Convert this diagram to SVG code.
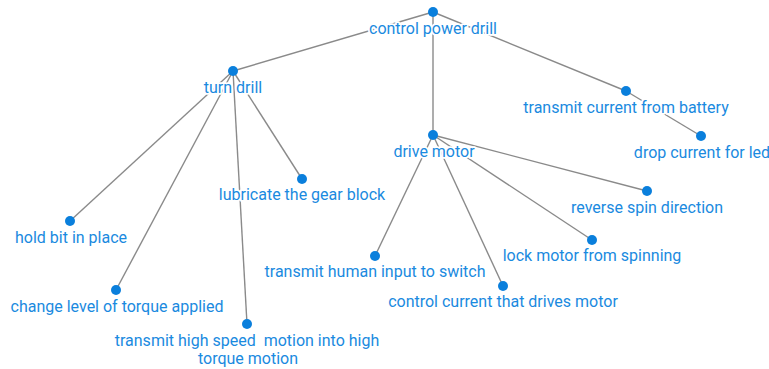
<svg xmlns="http://www.w3.org/2000/svg" width="769" height="369" viewBox="0 0 769 369">
<style>
.e{stroke:#8a8a8a;stroke-width:1.4;fill:none}
.d{fill:#0a7fdc}
.t{font-family:Roboto,"Liberation Sans",sans-serif;font-size:16px;fill:#1a8ae0;text-anchor:middle;stroke:#fff;stroke-width:3.5;stroke-linejoin:round;paint-order:stroke;white-space:pre}
</style>
<rect width="769" height="369" fill="#fff"/>
<g id="connectors">
<line class="e" x1="433" y1="12" x2="233" y2="71"/>
<line class="e" x1="433" y1="12" x2="433" y2="135"/>
<line class="e" x1="433" y1="12" x2="626" y2="91"/>
<line class="e" x1="626" y1="91" x2="701" y2="136"/>
<line class="e" x1="233" y1="71" x2="70" y2="221"/>
<line class="e" x1="233" y1="71" x2="116" y2="290"/>
<line class="e" x1="233" y1="71" x2="247" y2="324"/>
<line class="e" x1="233" y1="71" x2="302" y2="179"/>
<line class="e" x1="433" y1="135" x2="647" y2="191"/>
<line class="e" x1="433" y1="135" x2="592" y2="240"/>
<line class="e" x1="433" y1="135" x2="375" y2="256"/>
<line class="e" x1="433" y1="135" x2="503" y2="286"/>
</g>
<g id="n-control"><circle class="d" cx="433" cy="12" r="5"/><text class="t" x="433" y="34">control power drill</text></g>
<g id="n-turn"><circle class="d" cx="233" cy="71" r="5"/><text class="t" x="233" y="93">turn drill</text></g>
<g id="n-battery"><circle class="d" cx="626" cy="91" r="5"/><text class="t" x="626" y="113">transmit current from battery</text></g>
<g id="n-led"><circle class="d" cx="701" cy="136" r="5"/><text class="t" x="702" y="158">drop current for led</text></g>
<g id="n-drive"><circle class="d" cx="433" cy="135" r="5"/><text class="t" x="434" y="157">drive motor</text></g>
<g id="n-lubricate"><circle class="d" cx="302" cy="179" r="5"/><text class="t" x="302" y="200">lubricate the gear block</text></g>
<g id="n-reverse"><circle class="d" cx="647" cy="191" r="5"/><text class="t" x="647" y="213">reverse spin direction</text></g>
<g id="n-hold"><circle class="d" cx="70" cy="221" r="5"/><text class="t" x="71" y="243">hold bit in place</text></g>
<g id="n-lock"><circle class="d" cx="592" cy="240" r="5"/><text class="t" x="592" y="261">lock motor from spinning</text></g>
<g id="n-human"><circle class="d" cx="375" cy="256" r="5"/><text class="t" x="375" y="277">transmit human input to switch</text></g>
<g id="n-current"><circle class="d" cx="503" cy="286" r="5"/><text class="t" x="503" y="307">control current that drives motor</text></g>
<g id="n-torque"><circle class="d" cx="116" cy="290" r="5"/><text class="t" x="117" y="312">change level of torque applied</text></g>
<g id="n-speed"><circle class="d" cx="247" cy="324" r="5"/><text class="t" x="247" y="346">transmit high speed  motion into high</text><text class="t" x="248" y="364">torque motion</text></g>
</svg>
